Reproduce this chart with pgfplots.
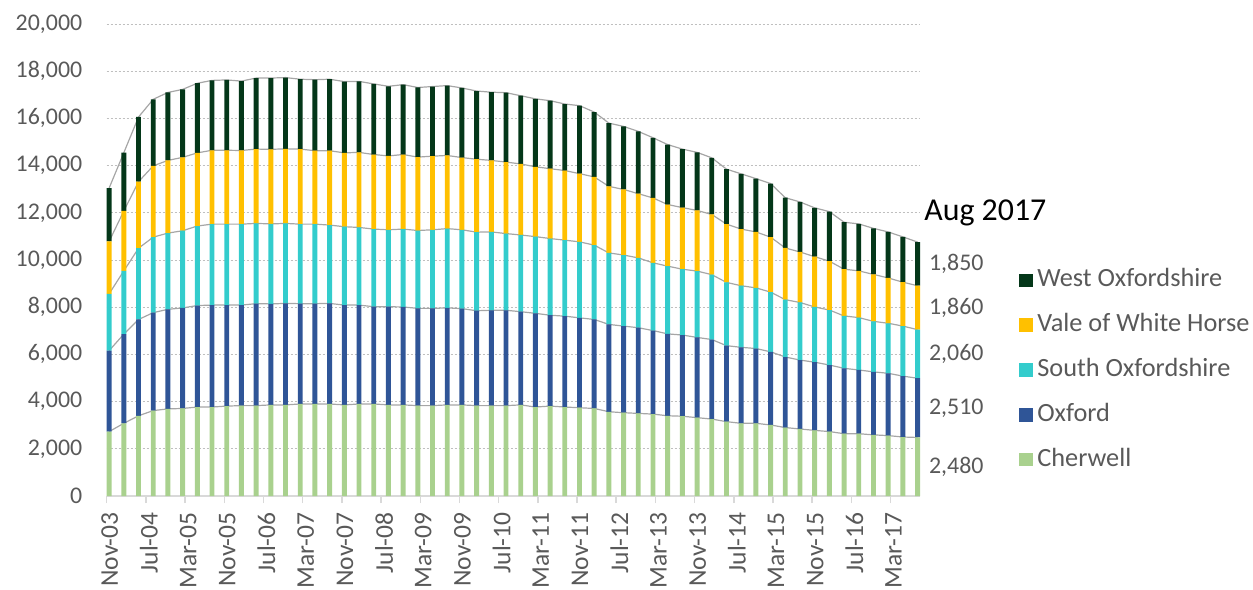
\documentclass[border=0pt]{standalone}
\usepackage{fontspec}
\setmainfont{Carlito}
\usepackage{pgfplots}
\usepackage{pgfplotstable}
\pgfplotsset{compat=1.18}
\definecolor{cWO}{RGB}{4,55,25}
\definecolor{cVW}{RGB}{255,192,0}
\definecolor{cSO}{RGB}{51,204,204}
\definecolor{cOX}{RGB}{47,85,151}
\definecolor{cCH}{RGB}{169,209,142}
\definecolor{txt}{RGB}{89,89,89}
\definecolor{gridc}{RGB}{191,191,191}
\definecolor{axc}{RGB}{217,217,217}
\definecolor{sline}{RGB}{166,166,166}

\pgfplotstableread{
x C O S V W
0.5 2730 3430 2410 2220 2260
3.5 3080 3780 2680 2540 2470
6.5 3400 4080 3020 2820 2740
9.5 3620 4150 3200 3020 2820
12.5 3690 4220 3230 3080 2880
15.5 3710 4260 3270 3110 2880
18.5 3770 4300 3370 3100 2950
21.5 3770 4320 3430 3130 2960
24.5 3810 4280 3430 3130 2980
27.5 3830 4260 3430 3120 2940
30.5 3830 4320 3400 3150 3010
33.5 3860 4280 3390 3160 3020
36.5 3860 4300 3390 3160 3020
39.5 3900 4250 3370 3180 2960
42.5 3900 4250 3370 3110 3010
45.5 3900 4260 3320 3150 3030
48.5 3860 4230 3320 3130 3020
51.5 3900 4190 3290 3180 3010
54.5 3900 4120 3290 3160 2990
57.5 3860 4160 3260 3130 2950
60.5 3860 4150 3300 3160 2960
63.5 3830 4120 3300 3110 2950
66.5 3830 4120 3330 3120 2950
69.5 3860 4110 3360 3100 2960
72.5 3860 4080 3340 3060 2950
75.5 3830 4020 3330 3090 2890
78.5 3830 4040 3320 3030 2890
81.5 3830 4040 3250 3030 2940
84.5 3860 3950 3250 3010 2890
87.5 3770 3970 3250 2960 2880
90.5 3810 3850 3250 2960 2880
93.5 3770 3850 3220 2950 2820
96.5 3740 3810 3220 2890 2880
99.5 3710 3770 3150 2890 2750
102.5 3570 3700 3030 2820 2680
105.5 3530 3670 3010 2780 2670
108.5 3500 3630 2960 2720 2640
111.5 3470 3540 2870 2750 2550
114.5 3400 3470 2870 2610 2540
117.5 3380 3440 2790 2610 2480
120.5 3320 3400 2810 2570 2460
123.5 3260 3370 2750 2550 2400
126.5 3150 3220 2680 2470 2330
129.5 3080 3220 2610 2400 2340
132.5 3080 3170 2570 2370 2260
135.5 3010 3100 2530 2330 2270
138.5 2900 2990 2430 2190 2130
141.5 2840 2920 2440 2140 2120
144.5 2780 2890 2340 2130 2070
147.5 2730 2820 2330 2070 2100
150.5 2640 2770 2220 1980 1990
153.5 2640 2700 2220 1980 1990
156.5 2590 2670 2140 1990 1950
159.5 2560 2640 2120 1920 1950
162.5 2500 2580 2120 1860 1920
165.5 2480 2510 2060 1860 1850
}\data

\pgfplotsset{base/.style={scale only axis, width=406.65bp, height=236bp,
  xmin=0, xmax=166, ymin=0, ymax=20000, at={(53.35bp,-248bp)}, anchor=south west}}

\begin{document}
\begin{tikzpicture}
\path[use as bounding box] (0,0) rectangle (626.5bp,-295bp);
% background axis: grid, x axis line, ticks, labels, series lines
\begin{axis}[base,
  axis x line*=bottom, axis y line*=left,
  y axis line style={draw=none},
  x axis line style={draw=axc, line width=0.75bp},
  ytick={0,2000,...,20000},
  scaled y ticks=false,
  ytick style={draw=none},
  xtick={0,8,...,160},
  xticklabels={Nov-03,Jul-04,Mar-05,Nov-05,Jul-06,Mar-07,Nov-07,Jul-08,Mar-09,Nov-09,Jul-10,Mar-11,Nov-11,Jul-12,Mar-13,Nov-13,Jul-14,Mar-15,Nov-15,Jul-16,Mar-17},
  xtick style={draw=axc, line width=0.75bp},
  tick align=outside, major tick length=3.5bp,
  ymajorgrids, grid style={draw=gridc, line width=0.5bp, dash pattern=on 1.2bp off 0.8bp},
  yticklabel style={font=\fontsize{12}{14}\selectfont, text=txt, anchor=east, inner sep=0pt, xshift=-8.5bp},
  xticklabel style={font=\fontsize{12.8}{14}\selectfont, text=txt, yshift=-4.5bp, xshift=1.5bp, rotate=90, anchor=east, inner sep=0pt},
  yticklabel={\pgfmathprintnumber[1000 sep={,}, assume math mode=true]{\tick}},
]
\addplot[sline, line width=0.6bp] table[x=x, y expr=\thisrow{C}] {\data};
\addplot[sline, line width=0.6bp] table[x=x, y expr=\thisrow{C}+\thisrow{O}] {\data};
\addplot[sline, line width=0.6bp] table[x=x, y expr=\thisrow{C}+\thisrow{O}+\thisrow{S}] {\data};
\addplot[sline, line width=0.6bp] table[x=x, y expr=\thisrow{C}+\thisrow{O}+\thisrow{S}+\thisrow{V}] {\data};
\addplot[sline, line width=0.6bp] table[x=x, y expr=\thisrow{C}+\thisrow{O}+\thisrow{S}+\thisrow{V}+\thisrow{W}] {\data};
\end{axis}
% bars
\begin{axis}[base, hide axis, clip=false,
  ybar stacked, bar width=1,
  reverse legend,
  legend image code/.code={\path[#1,draw=none] (0bp,-3.4bp) rectangle (6.8bp,3.4bp);},
  legend style={at={(1.1217,0.267)}, anchor=west, draw=none, fill=none, inner sep=0pt,
    font=\fontsize{13.2}{15}\selectfont, text=txt, row sep=5.5bp,
    nodes={inner sep=2.2bp, text height=9.5bp, text depth=3bp}},
  legend cell align=left,
]
\addplot[fill=cCH, draw=none] table[x=x, y=C] {\data};
\addplot[fill=cOX, draw=none] table[x=x, y=O] {\data};
\addplot[fill=cSO, draw=none] table[x=x, y=S] {\data};
\addplot[fill=cVW, draw=none] table[x=x, y=V] {\data};
\addplot[fill=cWO, draw=none] table[x=x, y=W] {\data};
\legend{Cherwell, Oxford, South Oxfordshire, Vale of White Horse, West Oxfordshire}
\node[font=\fontsize{12}{14}\selectfont, text=txt] at (axis cs:173.4,1240) {2,480};
\node[font=\fontsize{12}{14}\selectfont, text=txt] at (axis cs:173.4,3735) {2,510};
\node[font=\fontsize{12}{14}\selectfont, text=txt] at (axis cs:173.4,6020) {2,060};
\node[font=\fontsize{12}{14}\selectfont, text=txt] at (axis cs:173.4,7980) {1,860};
\node[font=\fontsize{12}{14}\selectfont, text=txt] at (axis cs:173.4,9835) {1,850};
\node[font=\fontsize{16}{18}\selectfont, text=black, anchor=west, inner sep=0pt] at (axis cs:166.8,11990) {Aug 2017};
\end{axis}
\end{tikzpicture}
\end{document}
